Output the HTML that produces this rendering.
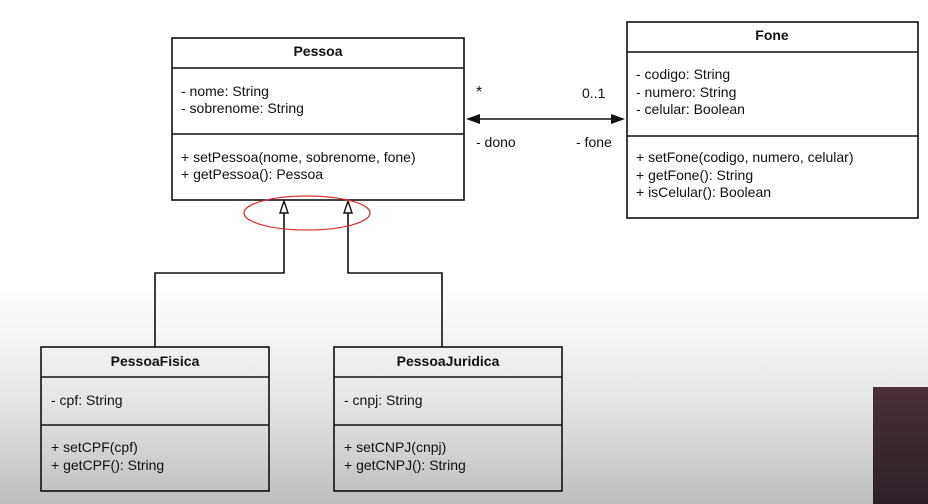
<!DOCTYPE html>
<html><head><style>
html,body{margin:0;padding:0;width:928px;height:504px;overflow:hidden}
body{background:linear-gradient(to bottom,#fff 0px,#fff 285px,#e6e6e6 400px,#bdbdbd 504px)}
svg{position:absolute;left:0;top:0}
text{font-family:"Liberation Sans",sans-serif;font-size:14px;fill:#111}
.b{font-weight:bold}
</style></head><body>
<svg width="928" height="504" viewBox="0 0 928 504">
<g fill="none" stroke="#111" stroke-width="1.6">
<rect x="172" y="38" width="292" height="162"/>
<line x1="172" y1="68" x2="464" y2="68"/><line x1="172" y1="134" x2="464" y2="134"/>
<rect x="627" y="22" width="291" height="196"/>
<line x1="627" y1="52" x2="918" y2="52"/><line x1="627" y1="136" x2="918" y2="136"/>
<rect x="41" y="347" width="228" height="144"/>
<line x1="41" y1="377" x2="269" y2="377"/><line x1="41" y1="425" x2="269" y2="425"/>
<rect x="334" y="347" width="228" height="144"/>
<line x1="334" y1="377" x2="562" y2="377"/><line x1="334" y1="425" x2="562" y2="425"/>
<line x1="476" y1="119" x2="615" y2="119"/>
<polyline points="284,210 284,273 155,273 155,347"/>
<polyline points="348,210 348,273 442,273 442,347"/>
</g>
<polygon points="466,119 480,114 480,124" fill="#111"/>
<polygon points="625,119 611,114 611,124" fill="#111"/>
<polygon points="284,201 280,213 288,213" fill="#fff" stroke="#111" stroke-width="1.4"/>
<polygon points="348,201 344,213 352,213" fill="#fff" stroke="#111" stroke-width="1.4"/>
<ellipse cx="307" cy="213" rx="63" ry="17" fill="none" stroke="#e03030" stroke-width="1.2"/>
<text x="318" y="56" class="b" text-anchor="middle">Pessoa</text>
<text x="181" y="96">- nome: String</text>
<text x="181" y="113">- sobrenome: String</text>
<text x="181" y="162">+ setPessoa(nome, sobrenome, fone)</text>
<text x="181" y="179">+ getPessoa(): Pessoa</text>
<text x="772" y="40" class="b" text-anchor="middle">Fone</text>
<text x="636" y="79">- codigo: String</text>
<text x="636" y="97">- numero: String</text>
<text x="636" y="114">- celular: Boolean</text>
<text x="636" y="162">+ setFone(codigo, numero, celular)</text>
<text x="636" y="180">+ getFone(): String</text>
<text x="636" y="197">+ isCelular(): Boolean</text>
<text x="476" y="97" style="font-size:16px">*</text>
<text x="582" y="98">0..1</text>
<text x="476" y="147">- dono</text>
<text x="576" y="147">- fone</text>
<text x="155" y="366" class="b" text-anchor="middle">PessoaFisica</text>
<text x="51" y="405">- cpf: String</text>
<text x="51" y="452">+ setCPF(cpf)</text>
<text x="51" y="470">+ getCPF(): String</text>
<text x="448" y="366" class="b" text-anchor="middle">PessoaJuridica</text>
<text x="344" y="405">- cnpj: String</text>
<text x="344" y="452">+ setCNPJ(cnpj)</text>
<text x="344" y="470">+ getCNPJ(): String</text>
<defs><linearGradient id="cam" x1="0" y1="0" x2="0" y2="1"><stop offset="0" stop-color="#4a3038"/><stop offset="1" stop-color="#2c2028"/></linearGradient></defs>
<rect x="873" y="387" width="55" height="117" fill="url(#cam)"/>
</svg>
</body></html>
